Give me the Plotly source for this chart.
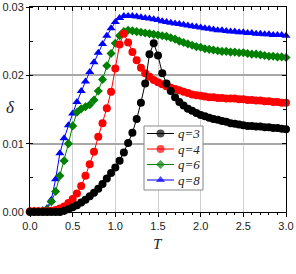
import plotly.graph_objects as go

T = [0.00, 0.05, 0.10, 0.15, 0.20, 0.25, 0.30, 0.35, 0.40, 0.45,
     0.50, 0.55, 0.60, 0.65, 0.70, 0.75, 0.80, 0.85, 0.90, 0.95,
     1.00, 1.05, 1.10, 1.15, 1.20, 1.25, 1.30, 1.35, 1.40, 1.45,
     1.50, 1.55, 1.60, 1.65, 1.70, 1.75, 1.80, 1.85, 1.90, 1.95,
     2.00, 2.05, 2.10, 2.15, 2.20, 2.25, 2.30, 2.35, 2.40, 2.45,
     2.50, 2.55, 2.60, 2.65, 2.70, 2.75, 2.80, 2.85, 2.90, 2.95, 3.00]

q3 = [0, 0, 0, 0, 0, 0, 0, 0.0000, 0.0002, 0.0004,
      0.0007, 0.0010, 0.0014, 0.0018, 0.0023, 0.0028, 0.0034, 0.0041, 0.0049, 0.0057,
      0.0065, 0.0075, 0.0087, 0.0101, 0.0116, 0.0136, 0.0160, 0.0188, 0.0231, 0.0247,
      0.0229, 0.0203, 0.0188, 0.0177, 0.0168, 0.0161, 0.0156, 0.0151, 0.0148, 0.0145,
      0.0142, 0.0140, 0.0138, 0.0136, 0.0135, 0.0133, 0.0132, 0.0130, 0.0129, 0.0128,
      0.0127, 0.0126, 0.0126, 0.0125, 0.0125, 0.0124, 0.0124, 0.0123, 0.0123, 0.0122, 0.0121]

q4 = [0.0001, 0.0001, 0.0001, 0.0001, 0.0001, 0.0002, 0.0003, 0.0005, 0.0008, 0.0013,
      0.0019, 0.0027, 0.0038, 0.0053, 0.0070, 0.0088, 0.0110, 0.0130, 0.0152, 0.0176,
      0.0210, 0.0245, 0.0261, 0.0248, 0.0234, 0.0222, 0.0211, 0.0203, 0.0198, 0.0193,
      0.0190, 0.0187, 0.0184, 0.0182, 0.0180, 0.0178, 0.0176, 0.0174, 0.0172, 0.0171,
      0.0170, 0.0169, 0.0168, 0.0168, 0.0167, 0.0167, 0.0166, 0.0166, 0.0166, 0.0165,
      0.0165, 0.0164, 0.0164, 0.0163, 0.0163, 0.0162, 0.0162, 0.0161, 0.0161, 0.0160, 0.0160]

q6 = [0.0001, 0.0001, 0.0001, 0.0001, 0.0004, 0.0015, 0.0030, 0.0053, 0.0075, 0.0100,
      0.0126, 0.0146, 0.0151, 0.0154, 0.0157, 0.0164, 0.0177, 0.0194, 0.0214, 0.0232,
      0.0247, 0.0258, 0.0264, 0.0266, 0.0265, 0.0264, 0.0263, 0.0262, 0.0261, 0.0260,
      0.0259, 0.0258, 0.0257, 0.0255, 0.0253, 0.0250, 0.0248, 0.0246, 0.0244, 0.0242,
      0.0241, 0.0239, 0.0238, 0.0237, 0.0236, 0.0235, 0.0235, 0.0234, 0.0234, 0.0233,
      0.0233, 0.0232, 0.0231, 0.0231, 0.0230, 0.0229, 0.0228, 0.0228, 0.0227, 0.0227, 0.0226]

q8 = [0.0002, 0.0002, 0.0002, 0.0003, 0.0006, 0.0018, 0.0048, 0.0086, 0.0108, 0.0127,
      0.0144, 0.0161, 0.0177, 0.0191, 0.0205, 0.0219, 0.0233, 0.0246, 0.0258, 0.0269,
      0.0278, 0.0284, 0.0287, 0.0287, 0.0287, 0.0286, 0.0285, 0.0284, 0.0283, 0.0282,
      0.0281, 0.0279, 0.0278, 0.0277, 0.0276, 0.0275, 0.0274, 0.0273, 0.0272, 0.0271,
      0.0270, 0.0269, 0.0268, 0.0267, 0.0266, 0.0266, 0.0265, 0.0264, 0.0264, 0.0263,
      0.0263, 0.0262, 0.0262, 0.0261, 0.0261, 0.0260, 0.0260, 0.0259, 0.0259, 0.0259, 0.0258]

legend_labels = ["q=3", "q=4", "q=6", "q=8"]
series_data = [q3, q4, q6, q8]
colors = ["#000000", "#ff0000", "#008000", "#0000ff"]
symbols = ["circle", "circle", "diamond", "triangle-up"]
sizes = [8, 8, 7, 8]

# plot geometry (pixels) used to place the hand-built legend
W, H = 296, 274
L, R, TOP, B = 30, 10, 7, 62
X_RANGE = [0, 3]
Y_RANGE = [0, 0.03]
pw, ph = W - L - R, H - TOP - B


def px2x(px):
    return X_RANGE[0] + (px - L) / pw * (X_RANGE[1] - X_RANGE[0])


def px2y(py):
    return Y_RANGE[0] + (H - B - py) / ph * (Y_RANGE[1] - Y_RANGE[0])


fig = go.Figure()
# draw q=8 first so q=3 ends on top
for lab, ys, c, s, sz in reversed(list(zip(legend_labels, series_data, colors, symbols, sizes))):
    fig.add_trace(go.Scatter(
        x=T, y=ys, name=lab, mode="lines+markers",
        line=dict(color=c, width=1),
        marker=dict(color=c, symbol=s, size=sz, line=dict(width=0)),
        cliponaxis=False, showlegend=False,
    ))

serif = "Liberation Serif, Times New Roman"
axis_font = dict(family="Liberation Sans, Arial", size=11, color="#222")

# hand-built legend (box, sample line+marker, label)
box = dict(x0=144, x1=203, y0=126, y1=190)
row_py = [133.5, 149, 164.5, 180]
shapes = [dict(type="rect", xref="x", yref="y", layer="between",
               x0=px2x(box["x0"]), x1=px2x(box["x1"]),
               y0=px2y(box["y1"]), y1=px2y(box["y0"]),
               fillcolor="white", line=dict(color="#888", width=1))]
annotations = []
for lab, c, s, sz, py in zip(legend_labels, colors, symbols, sizes, row_py):
    fig.add_trace(go.Scatter(
        x=[px2x(147), px2x(160.5), px2x(174)], y=[px2y(py)] * 3,
        mode="lines+markers", line=dict(color=c, width=1),
        marker=dict(color=c, symbol=s, size=[0, sz, 0], line=dict(width=0)),
        showlegend=False, hoverinfo="skip", cliponaxis=False,
    ))
    annotations.append(dict(
        text="<i>" + lab + "</i>", xref="x", yref="y", x=px2x(176), y=px2y(py),
        xanchor="left", yanchor="middle", showarrow=False,
        font=dict(family=serif, size=13, color="#222")))

annotations += [
    dict(text="<i>T</i>", xref="paper", yref="paper", x=0.5, y=-0.155,
         xanchor="center", yanchor="middle", showarrow=False,
         font=dict(family=serif, size=15, color="#222")),
    dict(text="<i>δ</i>", xref="paper", yref="paper", x=-0.078, y=0.508,
         xanchor="center", yanchor="middle", showarrow=False,
         font=dict(family=serif, size=17, color="#222")),
]

fig.update_layout(
    width=W, height=H,
    margin=dict(l=L, r=R, t=TOP, b=B),
    paper_bgcolor="white", plot_bgcolor="white",
    showlegend=False,
    xaxis=dict(
        range=X_RANGE, dtick=0.5, tickformat=".1f",
        showline=True, linecolor="black", linewidth=1,
        ticks="outside", ticklen=4, tickcolor="black",
        minor=dict(dtick=0.1, ticks="outside", ticklen=2, tickcolor="black", showgrid=False),
        showgrid=True, gridcolor="#d0d0d0", gridwidth=1,
        zeroline=False, tickfont=axis_font, automargin=False,
    ),
    yaxis=dict(
        range=Y_RANGE, dtick=0.01, tickformat=".2f",
        showline=True, linecolor="black", linewidth=1,
        ticks="outside", ticklen=3, tickcolor="black",
        minor=dict(dtick=0.005, ticks="inside", ticklen=3, tickcolor="black", showgrid=False),
        showgrid=True, gridcolor="#a8a8a8", gridwidth=1.5,
        zeroline=False, tickfont=axis_font, automargin=False,
    ),
    xaxis2=dict(
        overlaying="x", side="top", range=X_RANGE, dtick=0.5,
        showline=True, linecolor="black", linewidth=1,
        ticks="inside", ticklen=4, tickcolor="black",
        minor=dict(dtick=0.1, ticks="inside", ticklen=3, tickcolor="black", showgrid=False),
        showticklabels=False, showgrid=False, zeroline=False, automargin=False,
    ),
    yaxis2=dict(
        overlaying="y", side="right", range=Y_RANGE, dtick=0.01,
        showline=True, linecolor="black", linewidth=1,
        ticks="inside", ticklen=4, tickcolor="black",
        minor=dict(dtick=0.005, ticks="inside", ticklen=3, tickcolor="black", showgrid=False),
        showticklabels=False, showgrid=False, zeroline=False, automargin=False,
    ),
    shapes=shapes,
    annotations=annotations,
)
fig.add_trace(go.Scatter(x=X_RANGE, y=Y_RANGE, xaxis="x2", yaxis="y2", mode="markers",
                         marker=dict(opacity=0), showlegend=False, hoverinfo="skip"))

fig.write_html("out.html")
